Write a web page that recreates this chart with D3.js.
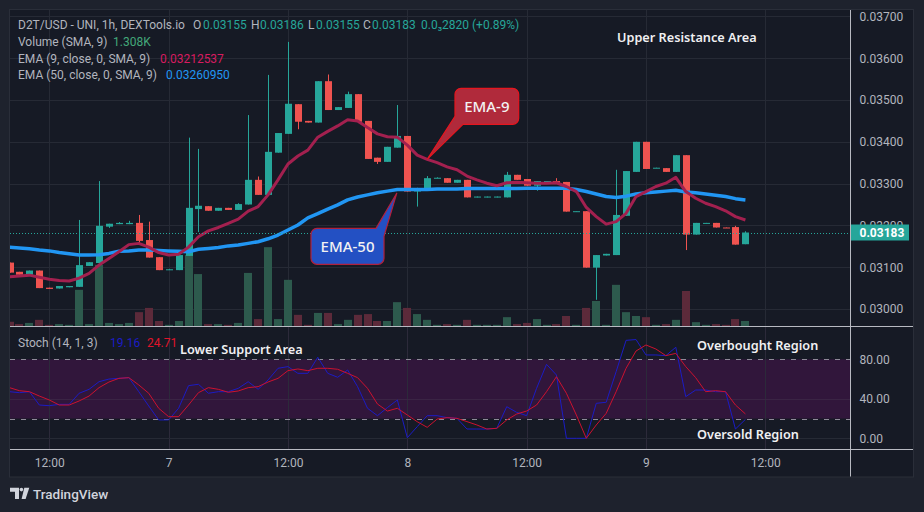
<!DOCTYPE html>
<html>
<head>
<meta charset="utf-8">
<script src="https://cdn.jsdelivr.net/npm/d3@7"></script>
<style>
  body { margin: 0; background: #1e222d; }
  svg { display: block; }
</style>
</head>
<body>
<div id="chart"></div>
<script>
// 1h candles, first one at 08:00 on day 6
var firstCandle = new Date(2023, 0, 6, 8);

var candleOpen = [0.03111, 0.03089, 0.03082, 0.03092, 0.03051, 0.03049, 0.03052, 0.03053, 0.03103, 0.03110,
    0.03197, 0.03203, 0.03203, 0.03206, 0.03165, 0.03124, 0.03094, 0.03093, 0.03127, 0.03239,
    0.03246, 0.03235, 0.03242, 0.03237, 0.03250, 0.03309, 0.03273, 0.03374, 0.03419, 0.03490,
    0.03450, 0.03446, 0.03545, 0.03476, 0.03481, 0.03514, 0.03450, 0.03362, 0.03352, 0.03386,
    0.03414, 0.03281, 0.03283, 0.03313, 0.03313, 0.03302, 0.03309, 0.03267, 0.03267, 0.03267,
    0.03267, 0.03321, 0.03311, 0.03295, 0.03305, 0.03306, 0.03304, 0.03233, 0.03234, 0.03099,
    0.03128, 0.03129, 0.03223, 0.03328, 0.03400, 0.03337, 0.03337, 0.03328, 0.03368, 0.03178,
    0.03205, 0.03206, 0.03195, 0.03196, 0.03155];
var candleHigh = [0.03111, 0.03089, 0.03092, 0.03092, 0.03051, 0.03055, 0.03055, 0.03213, 0.03112, 0.03306,
    0.03204, 0.03208, 0.03211, 0.03225, 0.03209, 0.03124, 0.03096, 0.03129, 0.03410, 0.03383,
    0.03246, 0.03242, 0.03242, 0.03253, 0.03464, 0.03317, 0.03560, 0.03421, 0.03639, 0.03490,
    0.03450, 0.03545, 0.03561, 0.03483, 0.03520, 0.03514, 0.03450, 0.03362, 0.03388, 0.03488,
    0.03414, 0.03290, 0.03318, 0.03315, 0.03313, 0.03309, 0.03309, 0.03269, 0.03269, 0.03269,
    0.03328, 0.03321, 0.03311, 0.03306, 0.03306, 0.03313, 0.03304, 0.03234, 0.03234, 0.03129,
    0.03132, 0.03333, 0.03330, 0.03400, 0.03400, 0.03338, 0.03337, 0.03368, 0.03368, 0.03206,
    0.03206, 0.03206, 0.03195, 0.03199, 0.03186];
var candleLow = [0.03087, 0.03082, 0.03082, 0.03050, 0.03048, 0.03049, 0.03052, 0.03053, 0.03103, 0.03110,
    0.03194, 0.03203, 0.03203, 0.03156, 0.03123, 0.03093, 0.03094, 0.03093, 0.03127, 0.03184,
    0.03235, 0.03235, 0.03237, 0.03237, 0.03250, 0.03273, 0.03273, 0.03374, 0.03419, 0.03430,
    0.03446, 0.03446, 0.03476, 0.03476, 0.03481, 0.03448, 0.03359, 0.03347, 0.03352, 0.03386,
    0.03281, 0.03245, 0.03283, 0.03313, 0.03302, 0.03302, 0.03267, 0.03267, 0.03267, 0.03267,
    0.03267, 0.03309, 0.03295, 0.03283, 0.03305, 0.03302, 0.03233, 0.03233, 0.03099, 0.03022,
    0.03128, 0.03129, 0.03223, 0.03328, 0.03335, 0.03337, 0.03328, 0.03328, 0.03141, 0.03178,
    0.03205, 0.03195, 0.03194, 0.03154, 0.03155];
var candleClose = [0.03087, 0.03082, 0.03092, 0.03050, 0.03048, 0.03055, 0.03055, 0.03105, 0.03112, 0.03199,
    0.03204, 0.03206, 0.03206, 0.03163, 0.03123, 0.03093, 0.03095, 0.03129, 0.03242, 0.03247,
    0.03235, 0.03242, 0.03237, 0.03251, 0.03309, 0.03273, 0.03376, 0.03421, 0.03491, 0.03448,
    0.03446, 0.03545, 0.03476, 0.03483, 0.03514, 0.03448, 0.03359, 0.03352, 0.03388, 0.03414,
    0.03281, 0.03284, 0.03313, 0.03314, 0.03302, 0.03309, 0.03267, 0.03269, 0.03269, 0.03269,
    0.03321, 0.03309, 0.03295, 0.03306, 0.03306, 0.03302, 0.03233, 0.03234, 0.03099, 0.03129,
    0.03132, 0.03225, 0.03330, 0.03400, 0.03335, 0.03338, 0.03328, 0.03368, 0.03178, 0.03206,
    0.03206, 0.03195, 0.03194, 0.03154, 0.03183];
// volume in thousands
var volumeK = [1.1, 0.5, 0.8, 1.6, 0.3, 0.5, 0.3, 9.4, 0.5, 15.9,
    0.8, 0.5, 0.8, 3.6, 4.7, 1.3, 0.3, 1.3, 18.5, 13.5,
    0.5, 0.5, 0.3, 0.8, 13.8, 1.8, 20.5, 1.8, 12.0, 2.9,
    0.3, 3.4, 3.4, 0.5, 1.6, 2.9, 3.1, 1.3, 1.3, 6.2,
    4.7, 3.1, 1.6, 0.3, 0.5, 0.3, 1.6, 0.3, 0.3, 0.3,
    2.3, 0.5, 0.8, 1.8, 0.3, 0.5, 2.6, 0.3, 4.7, 6.5,
    0.3, 10.7, 3.6, 2.6, 2.3, 0.3, 0.5, 1.6, 9.1, 1.0,
    0.3, 0.5, 0.3, 1.8, 1.308];
var ema9 = [0.03077, 0.03079, 0.03081, 0.03076, 0.03071, 0.03068, 0.03067, 0.03074, 0.03085, 0.03105,
    0.03121, 0.03137, 0.03154, 0.03157, 0.03148, 0.03135, 0.03129, 0.03131, 0.03148, 0.03173,
    0.03187, 0.03195, 0.03205, 0.03215, 0.03234, 0.03245, 0.03273, 0.03309, 0.03347, 0.03366,
    0.03380, 0.03411, 0.03425, 0.03438, 0.03453, 0.03450, 0.03434, 0.03419, 0.03412, 0.03411,
    0.03392, 0.03368, 0.03358, 0.03350, 0.03340, 0.03333, 0.03318, 0.03309, 0.03301, 0.03295,
    0.03302, 0.03303, 0.03302, 0.03301, 0.03301, 0.03302, 0.03293, 0.03281, 0.03243, 0.03221,
    0.03203, 0.03209, 0.03229, 0.03269, 0.03281, 0.03293, 0.03301, 0.03315, 0.03281, 0.03265,
    0.03253, 0.03245, 0.03235, 0.03221, 0.03213];
var ema50 = [0.03148, 0.03146, 0.03144, 0.03141, 0.03139, 0.03135, 0.03132, 0.03129, 0.03129, 0.03130,
    0.03133, 0.03138, 0.03139, 0.03141, 0.03141, 0.03140, 0.03139, 0.03138, 0.03137, 0.03143,
    0.03145, 0.03147, 0.03151, 0.03153, 0.03157, 0.03161, 0.03168, 0.03177, 0.03189, 0.03201,
    0.03218, 0.03228, 0.03239, 0.03249, 0.03261, 0.03268, 0.03273, 0.03278, 0.03282, 0.03286,
    0.03286, 0.03286, 0.03286, 0.03287, 0.03287, 0.03287, 0.03288, 0.03288, 0.03288, 0.03288,
    0.03288, 0.03288, 0.03289, 0.03289, 0.03289, 0.03289, 0.03289, 0.03286, 0.03281, 0.03275,
    0.03269, 0.03267, 0.03270, 0.03275, 0.03278, 0.03280, 0.03282, 0.03284, 0.03280, 0.03278,
    0.03275, 0.03272, 0.03269, 0.03264, 0.03261];
var stochK = [47.2, 46.2, 47.2, 33.7, 33.0, 34.4, 34.4, 45.6, 49.6, 57.3,
    60.0, 60.7, 61.4, 47.2, 32.7, 18.6, 18.6, 30.4, 53.3, 54.7,
    45.6, 47.2, 47.2, 50.6, 57.3, 49.6, 59.1, 70.9, 72.6, 65.8,
    65.8, 82.1, 65.8, 61.8, 69.2, 52.3, 30.4, 22.9, 31.1, 38.8,
    0.6, 11.8, 22.9, 22.9, 20.9, 20.2, 9.4, 9.4, 9.4, 10.1,
    32.0, 26.3, 22.9, 50.6, 74.9, 64.1, 0, 0, 0, 35.4,
    36.5, 67.5, 99.2, 100, 84.4, 84.4, 83.7, 92.2, 42.2, 48.9,
    48.9, 47.2, 47.2, 9.4, 19.16];
var stochD = [51.3, 48.2, 47.2, 42.8, 38.8, 33.7, 33.7, 37.8, 42.8, 51.3,
    57.0, 60.7, 61.4, 54.0, 45.6, 30.4, 21.9, 21.9, 33.7, 46.2,
    51.3, 49.6, 46.6, 47.9, 51.3, 52.3, 57.0, 60.7, 68.5, 70.2,
    68.5, 70.9, 70.9, 69.9, 65.8, 61.4, 50.6, 34.7, 27.6, 30.4,
    23.6, 16.8, 11.1, 19.5, 20.9, 20.2, 16.9, 13.5, 9.4, 10.1,
    18.6, 24.6, 27.6, 33.7, 47.2, 62.4, 45.6, 23.6, 0, 13.5,
    25.3, 47.2, 70.9, 88.4, 94.5, 90.4, 83.7, 86.0, 72.6, 61.4,
    47.2, 48.2, 47.2, 33.7, 24.71];

var priceTicks = [0.030, 0.031, 0.032, 0.033, 0.034, 0.035, 0.036, 0.037];
var stochTicks = [0, 40, 80];
var stochBand = [20, 80];

var W = 924, H = 512;
var pane = { left: 10, right: 850.5, top: 10, mainBottom: 326.5, stochBottom: 449.5, bottom: 476.5, axisRight: 913 };
var upColor = "#26a69a", downColor = "#ef5350";
var font = "Roboto, 'Noto Sans', sans-serif";

var candles = candleOpen.map(function(o, i) {
    return { t: d3.timeHour.offset(firstCandle, i), o: o, h: candleHigh[i], l: candleLow[i],
             c: candleClose[i], v: volumeK[i], e9: ema9[i], e50: ema50[i], k: stochK[i], d: stochD[i] };
});

var x = d3.scaleTime()
    .domain([new Date(2023, 0, 6, 12), new Date(2023, 0, 9, 12)])
    .range([49.3, 765.3]);
var y = d3.scaleLinear().domain([0.030, 0.037]).range([309, 16.4]);
var yVol = d3.scaleLinear().domain([0, 26]).range([326, 226]);
var yStoch = d3.scaleLinear().domain([0, 100]).range([438.3, 339.55]);
var timeTicks = d3.timeHour.every(12).range(new Date(2023, 0, 6, 12), new Date(2023, 0, 9, 13));

var svg = d3.select("#chart").append("svg")
    .attr("width", W).attr("height", H)
    .style("font-family", font);

svg.append("rect").attr("width", W).attr("height", H).attr("fill", "#1e222d");
svg.append("rect")
    .attr("x", pane.left - 0.5).attr("y", pane.top - 0.5)
    .attr("width", pane.axisRight - pane.left + 1).attr("height", pane.bottom - pane.top + 1)
    .attr("fill", "#161a25").attr("stroke", "#2a2e39");

var defs = svg.append("defs");
defs.append("clipPath").attr("id", "clipMain").append("rect")
    .attr("x", pane.left).attr("y", pane.top)
    .attr("width", pane.right - pane.left).attr("height", pane.mainBottom - pane.top);
defs.append("clipPath").attr("id", "clipStoch").append("rect")
    .attr("x", pane.left).attr("y", pane.mainBottom)
    .attr("width", pane.right - pane.left).attr("height", pane.stochBottom - pane.mainBottom);

// grid
var grid = svg.append("g");
grid.selectAll(".hgrid").data(priceTicks).enter().append("line")
    .attr("x1", pane.left).attr("x2", pane.right)
    .attr("y1", function(d) { return Math.round(y(d)) + 0.5; })
    .attr("y2", function(d) { return Math.round(y(d)) + 0.5; })
    .attr("stroke", "#262a35");
grid.selectAll(".vgrid").data(timeTicks).enter().append("line")
    .attr("x1", function(d) { return Math.round(x(d)) + 0.5; })
    .attr("x2", function(d) { return Math.round(x(d)) + 0.5; })
    .attr("y1", pane.top).attr("y2", pane.stochBottom)
    .attr("stroke", "#262a35");

// stochastic pane background band and levels
var stochG = svg.append("g").attr("clip-path", "url(#clipStoch)");
stochG.append("rect")
    .attr("x", pane.left).attr("width", pane.right - pane.left)
    .attr("y", yStoch(stochBand[1])).attr("height", yStoch(stochBand[0]) - yStoch(stochBand[1]))
    .attr("fill", "#31163b");
stochG.selectAll(".sgrid").data(timeTicks).enter().append("line")
    .attr("x1", function(d) { return Math.round(x(d)) + 0.5; })
    .attr("x2", function(d) { return Math.round(x(d)) + 0.5; })
    .attr("y1", pane.mainBottom).attr("y2", pane.stochBottom)
    .attr("stroke", "#2c2a3a");
stochG.selectAll(".slevel").data([0, 40]).enter().append("line")
    .attr("x1", pane.left).attr("x2", pane.right)
    .attr("y1", function(d) { return Math.round(yStoch(d)) + 0.5; })
    .attr("y2", function(d) { return Math.round(yStoch(d)) + 0.5; })
    .attr("stroke", function(d) { return d === 0 ? "#262a35" : "#3a2444"; });
stochG.selectAll(".sband").data(stochBand).enter().append("line")
    .attr("x1", pane.left).attr("x2", pane.right)
    .attr("y1", function(d) { return Math.round(yStoch(d)) + 0.5; })
    .attr("y2", function(d) { return Math.round(yStoch(d)) + 0.5; })
    .attr("stroke", "#8e8a98").attr("stroke-dasharray", "5,6");

var lineK = d3.line().x(function(d) { return x(d.t); }).y(function(d) { return yStoch(d.k); });
var lineD = d3.line().x(function(d) { return x(d.t); }).y(function(d) { return yStoch(d.d); });
stochG.append("path").datum(candles).attr("d", lineK)
    .attr("fill", "none").attr("stroke", "#1c1cc4").attr("stroke-width", 1);
stochG.append("path").datum(candles).attr("d", lineD)
    .attr("fill", "none").attr("stroke", "#cc1230").attr("stroke-width", 1);

// main pane
var mainG = svg.append("g").attr("clip-path", "url(#clipMain)");

mainG.selectAll(".vol").data(candles).enter().append("rect")
    .attr("x", function(d) { return Math.round(x(d.t) - 4); })
    .attr("width", 8)
    .attr("y", function(d) { return yVol(d.v); })
    .attr("height", function(d) { return yVol(0) - yVol(d.v); })
    .attr("fill", function(d) { return d.c >= d.o ? "#2d5a4d" : "#5c2a3a"; });

mainG.selectAll(".wick").data(candles).enter().append("line")
    .attr("x1", function(d) { return Math.round(x(d.t)) + 0.5; })
    .attr("x2", function(d) { return Math.round(x(d.t)) + 0.5; })
    .attr("y1", function(d) { return y(d.h); })
    .attr("y2", function(d) { return y(d.l); })
    .attr("stroke", function(d) { return d.c >= d.o ? upColor : downColor; });

mainG.selectAll(".body").data(candles).enter().append("rect")
    .attr("x", function(d) { return Math.round(x(d.t)) - 3; })
    .attr("width", 7)
    .attr("y", function(d) { return y(Math.max(d.o, d.c)); })
    .attr("height", function(d) { return Math.max(1, Math.abs(y(d.o) - y(d.c))); })
    .attr("fill", function(d) { return d.c >= d.o ? upColor : downColor; });

var line50 = d3.line().x(function(d) { return x(d.t); }).y(function(d) { return y(d.e50); });
var line9 = d3.line().x(function(d) { return x(d.t); }).y(function(d) { return y(d.e9); });
mainG.append("path").datum(candles).attr("d", line50)
    .attr("fill", "none").attr("stroke", "#2196f3").attr("stroke-width", 3.5).attr("stroke-linejoin", "round");
mainG.append("path").datum(candles).attr("d", line9)
    .attr("fill", "none").attr("stroke", "#a3204f").attr("stroke-width", 3).attr("stroke-linejoin", "round");

// last price dotted line
var last = candles[candles.length - 1];
mainG.append("line")
    .attr("x1", pane.left).attr("x2", pane.right)
    .attr("y1", Math.round(y(last.c)) + 0.5).attr("y2", Math.round(y(last.c)) + 0.5)
    .attr("stroke", upColor).attr("stroke-dasharray", "1,2");

// callouts
function callout(box, tip, base, fill, stroke, label) {
    var r = 6, x0 = box[0], y0 = box[1], x1 = box[2], y1 = box[3];
    var p = d3.path();
    if (base === "bottomLeft") {
        p.moveTo(x0 + r, y0);
        p.lineTo(x1 - r, y0); p.arcTo(x1, y0, x1, y0 + r, r);
        p.lineTo(x1, y1 - r); p.arcTo(x1, y1, x1 - r, y1, r);
        p.lineTo(x0 + 8, y1); p.lineTo(tip[0], tip[1]); p.lineTo(x0, y1 - 8);
        p.lineTo(x0, y0 + r); p.arcTo(x0, y0, x0 + r, y0, r);
    } else {
        p.moveTo(x0 + r, y0);
        p.lineTo(x1 - 8, y0); p.lineTo(tip[0], tip[1]); p.lineTo(x1, y0 + 8);
        p.lineTo(x1, y1 - r); p.arcTo(x1, y1, x1 - r, y1, r);
        p.lineTo(x0 + r, y1); p.arcTo(x0, y1, x0, y1 - r, r);
        p.lineTo(x0, y0 + r); p.arcTo(x0, y0, x0 + r, y0, r);
    }
    p.closePath();
    svg.append("path").attr("d", p.toString())
        .attr("fill", fill).attr("stroke", stroke).attr("stroke-width", 1.2);
    svg.append("text")
        .attr("x", (x0 + x1) / 2).attr("y", (y0 + y1) / 2 + 5.5)
        .attr("text-anchor", "middle")
        .attr("font-family", "'Noto Sans', sans-serif").attr("font-size", 15).attr("font-weight", 500)
        .attr("fill", "#f2f2f2")
        .text(label);
}
callout([455, 88.3, 518.7, 124.3], [x(candles[42].t), y(candles[42].e9)], "bottomLeft", "#b02a3b", "#e5161f", "EMA-9");
callout([311, 228.3, 384, 264.3], [x(candles[39].t) - 0.5, y(candles[39].e50) + 3.5], "topRight", "#2350c3", "#b1203c", "EMA-50");

// pane separators
svg.append("line").attr("x1", pane.left).attr("x2", pane.axisRight)
    .attr("y1", pane.mainBottom).attr("y2", pane.mainBottom).attr("stroke", "#b8bac2");
svg.append("line").attr("x1", pane.left).attr("x2", pane.axisRight)
    .attr("y1", pane.stochBottom).attr("y2", pane.stochBottom).attr("stroke", "#b8bac2");
svg.append("line").attr("x1", pane.right).attr("x2", pane.right)
    .attr("y1", pane.top).attr("y2", pane.bottom).attr("stroke", "#b8bac2");

// axes
var priceAxis = svg.append("g")
    .attr("transform", "translate(" + pane.right + ",0)")
    .call(d3.axisRight(y).tickValues(priceTicks).tickFormat(d3.format(".5f")).tickSize(0).tickPadding(9));
var stochAxis = svg.append("g")
    .attr("transform", "translate(" + pane.right + ",0)")
    .call(d3.axisRight(yStoch).tickValues(stochTicks).tickFormat(d3.format(".2f")).tickSize(0).tickPadding(9));
var timeAxis = svg.append("g")
    .attr("transform", "translate(0," + pane.stochBottom + ")")
    .call(d3.axisBottom(x).tickValues(timeTicks).tickSize(0).tickPadding(9)
        .tickFormat(function(d) { return d.getHours() === 0 ? String(d.getDate()) : "12:00"; }));
[priceAxis, stochAxis, timeAxis].forEach(function(a) {
    a.select(".domain").remove();
    a.selectAll("text").attr("fill", "#b2b5be").attr("font-family", font).attr("font-size", 12);
});

// last price label
var lastY = y(last.c);
svg.append("rect").attr("x", pane.right + 0.5).attr("y", lastY - 8).attr("width", 58).attr("height", 16)
    .attr("fill", upColor);
svg.append("text").attr("x", pane.right + 9).attr("y", lastY + 4.5)
    .attr("fill", "#ffffff").attr("font-size", 12).attr("font-weight", 700)
    .text(d3.format(".5f")(last.c));

// legends
function legendLine(yPos, parts) {
    var t = svg.append("text").attr("y", yPos).attr("font-size", 12);
    parts.forEach(function(p) {
        t.append("tspan").attr("x", p[0]).attr("fill", p[2]).text(p[1]);
    });
}
var grey = "#b2b5be", teal = "#26a69a";
legendLine(29.3, [[18, "D2T/USD - UNI, 1h, DEXTools.io", grey], [193, "O", grey], [203, d3.format(".5f")(last.o), teal],
    [251, "H", grey], [260, d3.format(".5f")(last.h), teal], [308, "L", grey], [316, d3.format(".5f")(last.l), teal],
    [363, "C", grey], [372, d3.format(".5f")(last.c), teal], [421, "0.0\u20832820 (+0.89%)", teal]]);
legendLine(46.3, [[18, "Volume (SMA, 9)", grey], [113, d3.format(".3f")(last.v) + "K", "#43a87a"]]);
legendLine(62.7, [[18, "EMA (9, close, 0, SMA, 9)", grey], [160, "0.03212537", "#d81b60"]]);
legendLine(79.3, [[18, "EMA (50, close, 0, SMA, 9)", grey], [166, "0.03260950", "#2196f3"]]);
legendLine(346.5, [[18, "Stoch (14, 1, 3)", grey], [110, d3.format(".2f")(last.k), "#1c1cc4"], [147, d3.format(".2f")(last.d), "#e0142a"]]);

// area notes
var notes = [
    { text: "Upper Resistance Area", x: 617, y: 41.7 },
    { text: "Lower Support Area", x: 180, y: 354.3 },
    { text: "Overbought Region", x: 697, y: 350 },
    { text: "Oversold Region", x: 697, y: 439 }
];
svg.selectAll(".note").data(notes).enter().append("text")
    .attr("x", function(d) { return d.x; }).attr("y", function(d) { return d.y; })
    .attr("font-family", "'Noto Sans', sans-serif").attr("font-size", 12.7).attr("font-weight", 600)
    .attr("fill", "#f0f0f2")
    .text(function(d) { return d.text; });

// TradingView mark
var logo = svg.append("g").attr("fill", "#d1d4dc");
logo.append("path").attr("d", "M10,487.7H19V499H15V491.7H10Z");
logo.append("circle").attr("cx", 21.4).attr("cy", 489.6).attr("r", 1.8);
logo.append("path").attr("d", "M24.3,487.7H29.3L25.6,499H21.6Z");
svg.append("text").attr("x", 33).attr("y", 499.3).attr("font-size", 13.5).attr("font-weight", 500)
    .attr("fill", "#d1d4dc").text("TradingView");
</script>
</body>
</html>
